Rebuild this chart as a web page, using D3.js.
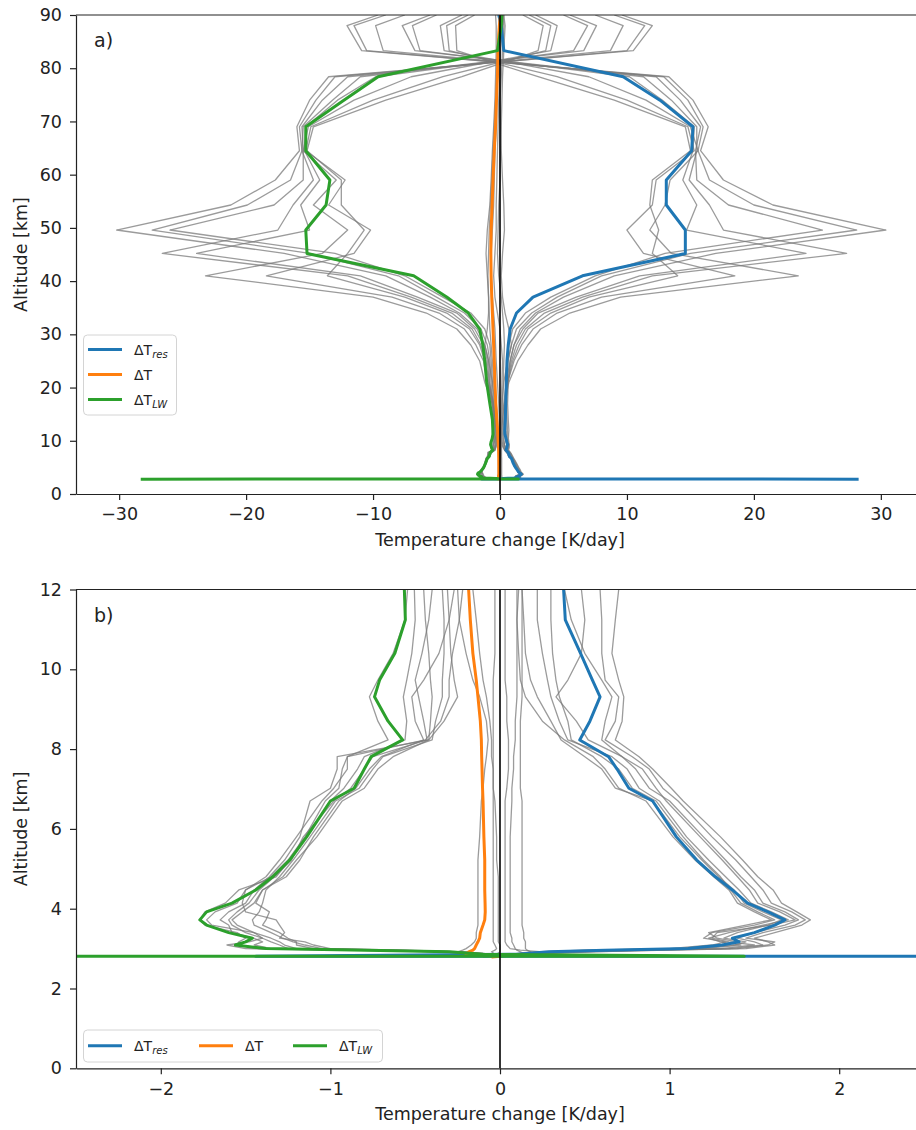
<!DOCTYPE html>
<html>
<head>
<meta charset="utf-8">
<script src="https://cdn.jsdelivr.net/npm/d3@7"></script>
<style>
  body { margin: 0; background: #fff; }
  svg { display: block; font-family: "DejaVu Sans", sans-serif; }
</style>
</head>
<body>
<svg id="fig" width="916" height="1130"></svg>
<script>
// altitude levels [km], shared by every profile
var altitude = [2.79, 2.81, 2.86, 2.92, 2.96, 3.0, 3.09, 3.17, 3.26, 3.4,
  3.59, 3.72, 3.92, 4.14, 4.47, 4.8, 5.22, 5.8, 6.7, 7.02,
  7.5, 7.81, 8.23, 8.7, 9.31, 9.73, 10.4, 11.24, 12.0, 14,
  17, 21, 25, 28, 31, 34, 37, 41, 45.2, 49.6,
  54.3, 59, 64.5, 69, 74, 78.4, 83.3, 88, 90];

// mean profiles [K/day]
var dTres = [28.25, -1.44, 0.1, 0.29, 0.62, 1.11, 1.31, 1.41, 1.37, 1.5,
  1.62, 1.68, 1.58, 1.46, 1.37, 1.27, 1.16, 1.04, 0.9, 0.76,
  0.69, 0.64, 0.47, 0.53, 0.59, 0.545, 0.475, 0.385, 0.375, 0.42,
  0.45, 0.5, 0.55, 0.65, 0.8, 1.3, 2.6, 6.5, 14.6, 14.6,
  13.1, 13.1, 15.1, 15.2, 12.6, 9.7, 0.3, 0.1, -0.1];
var dT = [-0.05, 0.0, -0.2, -0.185, -0.16, -0.15, -0.14, -0.13, -0.12, -0.116,
  -0.1, -0.09, -0.087, -0.088, -0.09, -0.09, -0.09, -0.095, -0.1, -0.103,
  -0.106, -0.108, -0.11, -0.116, -0.13, -0.14, -0.16, -0.175, -0.185, -0.25,
  -0.33, -0.4, -0.45, -0.5, -0.55, -0.6, -0.65, -0.7, -0.72, -0.7,
  -0.62, -0.55, -0.45, -0.35, -0.28, -0.2, -0.16, -0.05, 0.05];
var dTlw = [-28.3, 1.44, -0.1, -0.3, -0.79, -1.38, -1.56, -1.5, -1.46, -1.6,
  -1.73, -1.77, -1.73, -1.58, -1.44, -1.34, -1.24, -1.14, -1.0, -0.86,
  -0.8, -0.76, -0.574, -0.66, -0.74, -0.71, -0.62, -0.558, -0.564, -0.6,
  -0.8, -1.05, -1.2, -1.35, -1.6, -2.5, -4.2, -6.8, -15.2, -15.3,
  -13.7, -13.4, -15.3, -15.3, -12.3, -9.6, -0.2, 0.1, 0.15];

// individual members (grey)
var resMembers = [
  [27.8, -1.40, 0.15, 0.5, 1.0, 1.45, 1.62, 1.58, 1.5, 1.62, 1.78, 1.83, 1.75, 1.66, 1.61, 1.52, 1.43, 1.3, 1.08, 1.01,
   0.9, 0.82, 0.68, 0.72, 0.73, 0.7, 0.66, 0.68, 0.70, 0.65, 0.6, 0.65, 0.8, 1.1, 1.6, 2.8, 5.0, 9.0, 17.0, 30.4,
   21.5, 17.6, 15.8, 16.4, 15.2, 13.3, -10.9, -12.05, -9.6],
  [27.5, -1.38, 0.2, 0.55, 0.95, 1.4, 1.58, 1.62, 1.45, 1.55, 1.74, 1.80, 1.72, 1.6, 1.55, 1.48, 1.39, 1.25, 1.05, 0.96,
   0.88, 0.78, 0.62, 0.68, 0.70, 0.62, 0.6, 0.6, 0.59, 0.55, 0.5, 0.55, 0.65, 0.9, 1.3, 2.5, 4.5, 8.0, 15.0, 28.1,
   20.0, 16.5, 15.6, 16.0, 14.8, 12.9, -10.5, -11.5, -9.0],
  [27.2, -1.35, 0.1, 0.4, 0.8, 1.3, 1.5, 1.35, 1.25, 1.28, 1.6, 1.74, 1.65, 1.52, 1.47, 1.4, 1.31, 1.18, 0.98, 0.92,
   0.84, 0.72, 0.52, 0.45, 0.33, 0.4, 0.48, 0.5, 0.48, 0.45, 0.42, 0.45, 0.55, 0.7, 1.0, 2.0, 4.0, 7.5, 13.0, 25.4,
   18.0, 15.5, 15.4, 15.8, 14.2, 12.3, -9.2, -9.8, -7.5],
  [27.0, -1.3, 0.05, 0.3, 0.7, 1.2, 1.42, 1.3, 1.23, 1.35, 1.55, 1.70, 1.6, 1.48, 1.41, 1.33, 1.23, 1.1, 0.94, 0.82,
   0.75, 0.66, 0.4, 0.35, 0.3, 0.28, 0.25, 0.22, 0.22, 0.3, 0.4, 0.6, 0.9, 1.3, 2.0, 3.5, 6.5, 12.0, 27.3, 17.6,
   16.5, 14.9, 15.5, 15.5, 13.5, 11.3, -6.7, -7.7, -5.5],
  [27.6, -1.42, 0.12, 0.35, 0.65, 1.15, 1.38, 1.45, 1.32, 1.4, 1.58, 1.66, 1.55, 1.44, 1.38, 1.29, 1.19, 1.06, 0.9, 0.68,
   0.6, 0.5, 0.36, 0.3, 0.22, 0.18, 0.15, 0.14, 0.13, 0.2, 0.3, 0.5, 0.8, 1.1, 1.8, 3.0, 6.0, 11.0, 24.1, 14.7,
   15.5, 14.4, 15.2, 15.3, 12.8, 10.2, -6.3, -6.9, -5.0],
  [27.3, -1.36, 0.08, 0.25, 0.55, 1.05, 1.3, 1.4, 1.28, 1.23, 1.45, 1.6, 1.5, 1.4, 1.35, 1.26, 1.15, 1.02, 0.86, 0.7,
   0.62, 0.55, 0.38, 0.25, 0.15, 0.12, 0.11, 0.1, 0.11, 0.2, 0.35, 0.7, 1.4, 2.2, 3.2, 5.5, 9.5, 23.5, 13.5, 11.8,
   13.0, 13.4, 15.6, 15.0, 11.5, 7.0, -4.4, -4.7, -3.0],
  [27.9, -1.43, 0.18, 0.45, 0.85, 1.35, 1.55, 1.5, 1.4, 1.5, 1.68, 1.76, 1.68, 1.55, 1.5, 1.42, 1.33, 1.2, 1.0, 0.88,
   0.8, 0.72, 0.6, 0.62, 0.66, 0.6, 0.5, 0.42, 0.38, 0.4, 0.45, 0.6, 1.1, 1.7, 2.6, 4.5, 8.0, 18.5, 11.3, 10.0,
   12.0, 12.3, 15.3, 14.8, 10.0, 4.5, -4.0, -4.2, -2.5],
  [27.4, -1.39, 0.06, 0.2, 0.5, 1.0, 1.25, 1.33, 1.2, 1.25, 1.5, 1.62, 1.52, 1.42, 1.36, 1.3, 1.2, 1.08, 0.92, 0.78,
   0.7, 0.6, 0.42, 0.4, 0.35, 0.33, 0.31, 0.3, 0.3, 0.35, 0.45, 0.6, 1.0, 1.5, 2.2, 4.0, 7.0, 14.0, 12.0, 12.5,
   11.8, 12.0, 15.0, 14.6, 9.0, 3.0, -3.4, -3.5, -2.0]
];
var lwMembers = [
  [-27.8, 1.4, -0.12, -0.35, -0.9, -1.5, -1.61, -1.48, -1.4, -1.45, -1.7, -1.73, -1.68, -1.55, -1.5, -1.38, -1.3, -1.2, -1.05, -0.98,
   -0.9, -0.9, -0.66, -0.72, -0.77, -0.72, -0.63, -0.56, -0.545, -0.55, -0.65, -0.8, -0.9, -1.2, -1.8, -3.2, -5.5, -9.0, -17.0, -30.2,
   -21.2, -17.7, -15.8, -16.0, -15.0, -13.5, 10.5, 12.0, 9.6],
  [-27.5, 1.38, -0.1, -0.32, -0.85, -1.42, -1.55, -1.54, -1.5, -1.55, -1.74, -1.77, -1.74, -1.62, -1.54, -1.32, -1.24, -1.14, -1.0, -0.92,
   -0.84, -0.8, -0.56, -0.55, -0.57, -0.55, -0.52, -0.5, -0.505, -0.5, -0.58, -0.7, -0.8, -1.0, -1.5, -2.8, -5.0, -8.0, -15.0, -27.4,
   -19.9, -16.5, -15.6, -15.8, -14.5, -13.0, 10.0, 11.4, 9.0],
  [-27.2, 1.35, -0.08, -0.28, -0.7, -1.2, -1.27, -1.3, -1.35, -1.45, -1.55, -1.58, -1.52, -1.45, -1.4, -1.28, -1.2, -1.08, -0.93, -0.8,
   -0.72, -0.63, -0.42, -0.41, -0.40, -0.41, -0.42, -0.44, -0.45, -0.45, -0.5, -0.6, -0.7, -0.8, -1.2, -2.3, -4.5, -7.5, -13.0, -26.0,
   -17.8, -15.5, -15.5, -15.6, -14.0, -12.0, 8.7, 9.7, 7.5],
  [-27.0, 1.3, -0.06, -0.25, -0.6, -1.05, -1.15, -1.22, -1.28, -1.35, -1.45, -1.46, -1.42, -1.4, -1.38, -1.3, -1.22, -1.12, -0.97, -0.83,
   -0.75, -0.69, -0.4, -0.38, -0.34, -0.34, -0.33, -0.33, -0.34, -0.4, -0.55, -0.9, -1.1, -1.5, -2.2, -3.8, -7.0, -12.0, -26.6, -17.5,
   -16.3, -14.7, -15.6, -15.5, -13.2, -11.0, 6.6, 7.6, 5.5],
  [-27.6, 1.42, -0.1, -0.3, -0.8, -1.35, -1.45, -1.4, -1.45, -1.58, -1.6, -1.65, -1.6, -1.5, -1.45, -1.36, -1.27, -1.18, -1.12, -1.0,
   -0.96, -0.96, -0.42, -0.33, -0.25, -0.27, -0.29, -0.3, -0.31, -0.38, -0.5, -0.85, -1.0, -1.3, -2.0, -3.4, -6.5, -11.0, -23.9, -15.0,
   -15.7, -14.2, -15.4, -15.3, -12.8, -9.8, 5.8, 6.9, 5.0],
  [-27.3, 1.36, -0.05, -0.22, -0.65, -1.1, -1.2, -1.2, -1.25, -1.3, -1.4, -1.38, -1.36, -1.44, -1.4, -1.26, -1.18, -1.1, -0.95, -0.85,
   -0.77, -0.7, -0.45, -0.5, -0.52, -0.45, -0.36, -0.3, -0.27, -0.36, -0.6, -1.2, -1.6, -2.3, -3.4, -5.8, -10.0, -23.2, -14.0, -12.0,
   -14.7, -12.9, -15.5, -15.1, -11.5, -7.0, 4.0, 4.5, 2.8],
  [-27.9, 1.43, -0.05, -0.2, -0.55, -1.0, -1.1, -1.15, -1.3, -1.27, -1.3, -1.32, -1.5, -1.52, -1.5, -1.35, -1.25, -1.15, -1.03, -0.95,
   -0.93, -0.9, -0.44, -0.35, -0.3, -0.3, -0.28, -0.24, -0.22, -0.32, -0.5, -1.0, -1.3, -1.9, -2.8, -4.8, -8.5, -18.4, -11.5, -10.2,
   -13.5, -12.2, -15.3, -14.9, -10.0, -4.5, 3.6, 4.0, 2.3],
  [-27.4, 1.39, -0.08, -0.27, -0.75, -1.25, -1.3, -1.35, -1.4, -1.5, -1.58, -1.6, -1.55, -1.48, -1.42, -1.33, -1.23, -1.16, -0.98, -0.88,
   -0.8, -0.75, -0.43, -0.45, -0.48, -0.5, -0.46, -0.42, -0.4, -0.45, -0.6, -1.0, -1.2, -1.6, -2.4, -4.2, -7.5, -13.6, -12.0, -10.7,
   -12.5, -12.5, -15.2, -14.7, -9.0, -3.0, 3.0, 3.4, 1.8]
];
var dtMembers = [
  [-0.1, 0.0, -0.15, -0.25, -0.22, -0.2, -0.17, -0.15, -0.14, -0.14, -0.13, -0.13, -0.13, -0.13, -0.13, -0.13, -0.13, -0.12, -0.11, -0.1,
   -0.09, -0.08, -0.07, -0.08, -0.12, -0.16, -0.2, -0.24, -0.25, -0.3, -0.4, -0.6, -0.9, -1.2, -1.0, -0.9, -0.9, -1.0, -1.1, -1.0,
   -0.8, -0.7, -0.6, -0.5, -0.4, -0.35, -0.3, -0.3, -0.35],
  [-0.05, 0.0, -0.03, -0.05, -0.03, -0.02, -0.03, -0.04, -0.04, -0.04, -0.04, -0.04, -0.04, -0.04, -0.04, -0.04, -0.04, -0.04, -0.04, -0.04,
   -0.04, -0.04, -0.04, -0.04, -0.04, -0.04, -0.03, -0.03, -0.03, -0.05, -0.1, -0.2, -0.3, -0.35, -0.4, -0.5, -0.6, -0.7, -0.7, -0.6,
   -0.5, -0.45, -0.4, -0.3, -0.25, -0.2, -0.1, 0.1, 0.15],
  [0.0, 0.05, 0.1, 0.25, 0.12, 0.06, 0.04, 0.03, 0.03, 0.03, 0.03, 0.03, 0.03, 0.03, 0.03, 0.03, 0.03, 0.03, 0.03, 0.04,
   0.05, 0.05, 0.05, 0.04, 0.04, 0.03, 0.03, 0.03, 0.03, 0.05, 0.1, 0.15, 0.2, 0.1, 0.0, -0.2, -0.4, -0.5, -0.4, -0.3,
   -0.3, -0.25, -0.2, -0.15, -0.1, 0.0, 0.05, 0.2, 0.3],
  [0.0, 0.05, 0.15, 0.12, 0.1, 0.09, 0.08, 0.07, 0.07, 0.06, 0.06, 0.06, 0.06, 0.06, 0.06, 0.06, 0.06, 0.06, 0.07, 0.07,
   0.08, 0.08, 0.09, 0.09, 0.1, 0.1, 0.1, 0.1, 0.1, 0.1, 0.15, 0.3, 0.6, 0.9, 0.7, 0.4, 0.2, 0.1, 0.2, 0.35,
   0.3, 0.2, 0.1, 0.05, 0.0, 0.1, 0.2, 0.3, 0.2],
  [0.05, 0.05, 0.2, 0.18, 0.16, 0.15, 0.15, 0.15, 0.14, 0.14, 0.13, 0.13, 0.13, 0.13, 0.13, 0.13, 0.13, 0.13, 0.13, 0.12,
   0.12, 0.12, 0.12, 0.12, 0.13, 0.13, 0.13, 0.13, 0.13, 0.15, 0.2, 0.25, 0.3, 0.35, 0.3, 0.2, 0.1, -0.1, -0.2, -0.15,
   -0.1, 0.0, 0.05, 0.1, 0.15, 0.2, 0.3, 0.4, 0.3],
  [-0.05, 0.0, -0.02, 0.0, 0.0, 0.0, 0.0, -0.01, -0.01, -0.01, -0.01, -0.01, -0.01, -0.01, -0.01, -0.01, -0.02, -0.02, -0.03, -0.04,
   -0.04, -0.05, -0.05, -0.06, -0.08, -0.1, -0.12, -0.14, -0.16, -0.2, -0.3, -0.5, -0.6, -0.7, -0.8, -0.85, -0.9, -0.95, -0.9, -0.85,
   -0.75, -0.65, -0.55, -0.45, -0.35, -0.25, -0.2, -0.1, -0.05]
];

// axis ticks
var ticksAx = [-30, -20, -10, 0, 10, 20, 30];
var ticksAy = [0, 10, 20, 30, 40, 50, 60, 70, 80, 90];
var ticksBx = [-2, -1, 0, 1, 2];
var ticksBy = [0, 2, 4, 6, 8, 10, 12];

var svg = d3.select('#fig');
var font = '"DejaVu Sans", sans-serif';
var axisColor = '#222';

var series = [
  {values: dTres, color: '#1f77b4', main: 'ΔT', sub: 'res'},
  {values: dT, color: '#ff7f0e', main: 'ΔT', sub: ''},
  {values: dTlw, color: '#2ca02c', main: 'ΔT', sub: 'LW'}
];

function profile(vals) {
  return vals.map(function(v, i) { return [v, altitude[i]]; });
}

function drawPanel(cfg) {
  var left = 76, right = 924;
  var x = d3.scaleLinear().domain(cfg.xDomain).range([left, right]);
  var y = d3.scaleLinear().domain(cfg.yDomain).range([cfg.bottom, cfg.top]);

  svg.append('clipPath').attr('id', 'clip-' + cfg.id)
    .append('rect')
    .attr('x', left).attr('y', cfg.top)
    .attr('width', right - left).attr('height', cfg.bottom - cfg.top);

  var line = d3.line()
    .x(function(d) { return x(d[0]); })
    .y(function(d) { return y(d[1]); });

  var plot = svg.append('g').attr('clip-path', 'url(#clip-' + cfg.id + ')');

  // grey members
  var members = resMembers.concat(lwMembers, dtMembers);
  plot.selectAll('path.member')
    .data(members)
    .enter().append('path')
    .attr('class', 'member')
    .attr('d', function(d) { return line(profile(d)); })
    .style('fill', 'none')
    .style('stroke', '#7a7a7a')
    .style('stroke-opacity', 0.75)
    .style('stroke-width', 1.3)
    .style('stroke-linejoin', 'round');

  // means
  series.forEach(function(s) {
    plot.append('path')
      .attr('d', line(profile(s.values)))
      .style('fill', 'none')
      .style('stroke', s.color)
      .style('stroke-width', 3)
      .style('stroke-linejoin', 'round');
  });

  // zero line
  plot.append('line')
    .attr('x1', x(0)).attr('x2', x(0))
    .attr('y1', cfg.top).attr('y2', cfg.bottom)
    .style('stroke', '#000').style('stroke-width', 1.6);

  // axes
  var xAxis = d3.axisBottom(x).tickValues(cfg.xTicks).tickFormat(d3.format('d'))
    .tickSize(6).tickPadding(8).tickSizeOuter(0);
  var yAxis = d3.axisLeft(y).tickValues(cfg.yTicks).tickFormat(d3.format('d'))
    .tickSize(6).tickPadding(8).tickSizeOuter(0);
  var gx = svg.append('g').attr('transform', 'translate(0,' + cfg.bottom + ')').call(xAxis);
  var gy = svg.append('g').attr('transform', 'translate(' + left + ',0)').call(yAxis);
  [gx, gy].forEach(function(g) {
    g.attr('font-size', 17.5).attr('font-family', font);
    g.selectAll('text').attr('fill', axisColor);
    g.selectAll('line').attr('stroke', axisColor).attr('stroke-width', 1.2);
    g.select('.domain').attr('stroke', axisColor).attr('stroke-width', 1.2);
  });
  svg.append('line')
    .attr('x1', left).attr('x2', right).attr('y1', cfg.top).attr('y2', cfg.top)
    .style('stroke', axisColor).style('stroke-width', 1.2);
  svg.append('line')
    .attr('x1', right).attr('x2', right).attr('y1', cfg.top).attr('y2', cfg.bottom)
    .style('stroke', axisColor).style('stroke-width', 1.2);

  // axis labels
  svg.append('text')
    .attr('x', (left + right) / 2).attr('y', cfg.bottom + 52)
    .attr('text-anchor', 'middle')
    .style('font-size', '17.5px').style('fill', axisColor)
    .text('Temperature change [K/day]');
  svg.append('text')
    .attr('transform', 'translate(27,' + (cfg.top + cfg.bottom) / 2 + ') rotate(-90)')
    .attr('text-anchor', 'middle')
    .style('font-size', '17.5px').style('fill', axisColor)
    .text('Altitude [km]');

  // panel tag
  svg.append('text')
    .attr('x', 94).attr('y', cfg.top + 32)
    .style('font-size', '19px').style('fill', axisColor)
    .text(cfg.tag);

  // legend
  var lg = svg.append('g');
  lg.append('rect')
    .attr('x', cfg.legend.x).attr('y', cfg.legend.y)
    .attr('width', cfg.legend.w).attr('height', cfg.legend.h)
    .attr('rx', 4)
    .style('fill', '#fff').style('fill-opacity', 0.8)
    .style('stroke', '#d4d4d4').style('stroke-width', 1);
  series.forEach(function(s, i) {
    var pos = cfg.legend.items[i];
    lg.append('line')
      .attr('x1', pos[0]).attr('x2', pos[0] + 34)
      .attr('y1', pos[1]).attr('y2', pos[1])
      .style('stroke', s.color).style('stroke-width', 3);
    var t = lg.append('text')
      .attr('x', pos[0] + 46).attr('y', pos[1] + 5)
      .style('font-size', '14px').style('fill', axisColor)
      .text(s.main);
    if (s.sub) {
      t.append('tspan')
        .attr('dy', 3)
        .style('font-size', '10px').style('font-style', 'italic')
        .text(s.sub);
    }
  });
}

drawPanel({
  id: 'a', tag: 'a)', top: 15, bottom: 494,
  xDomain: [-33.4, 33.4], yDomain: [0, 90],
  xTicks: ticksAx, yTicks: ticksAy,
  legend: {x: 83.5, y: 335, w: 93, h: 80, items: [[88, 349.5], [88, 374.5], [88, 399.5]]}
});

drawPanel({
  id: 'b', tag: 'b)', top: 589.5, bottom: 1068.3,
  xDomain: [-2.5, 2.5], yDomain: [0, 12],
  xTicks: ticksBx, yTicks: ticksBy,
  legend: {x: 83.5, y: 1030, w: 299, h: 32, items: [[88, 1045.7], [199, 1045.7], [293, 1045.7]]}
});
</script>
</body>
</html>
